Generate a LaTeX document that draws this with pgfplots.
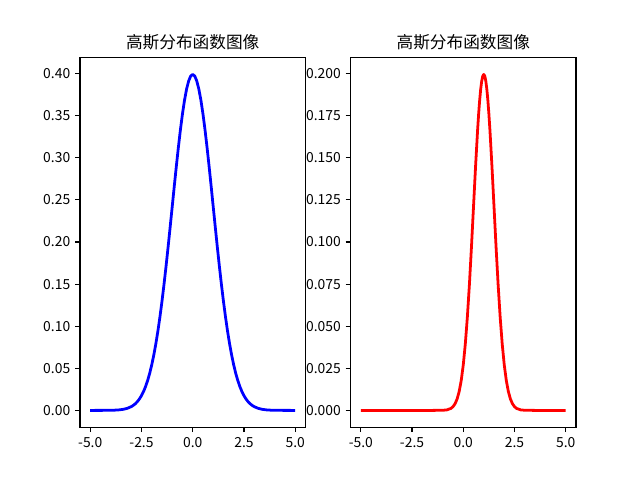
\documentclass[border=0pt]{standalone}
\usepackage{fontspec}
\setmainfont{Noto Sans CJK SC}
\usepackage{pgfplots}
\pgfplotsset{compat=1.18}
\begin{document}
\begin{tikzpicture}
\path (0,0) rectangle (460.8pt,345.6pt);
\pgfplotsset{
  mpl/.style={
    scale only axis,
    width=162.3pt, height=266.1pt,
    anchor=south west,
    axis line style={line width=0.8pt},
    tick style={line width=0.8pt, black},
    major tick length=3.5pt,
    tick align=outside,
    xtick pos=bottom, ytick pos=left,
    xmin=-5.5, xmax=5.5,
    xtick={-5,-2.5,0,2.5,5},
    xticklabels={-5.0,-2.5,0.0,2.5,5.0},
    tick label style={font=\fontsize{10pt}{12pt}\selectfont},
    /pgf/number format/assume math mode=true,
    title style={font=\fontsize{12pt}{14pt}\selectfont, at={(0.5,1)}, anchor=south, yshift=-4pt},
  }
}
\begin{axis}[mpl, at={(57.6pt,38.02pt)},
  ymin=-0.019947, ymax=0.418889,
  ytick={0,0.05,0.10,0.15,0.20,0.25,0.30,0.35,0.40},
  yticklabels={0.00,0.05,0.10,0.15,0.20,0.25,0.30,0.35,0.40},
  title={高斯分布函数图像}]
\addplot[blue, line width=2pt, line join=round] coordinates {
(-5.0,0.0000015) (-4.5,0.000016) (-4.0,0.00013) (-3.8,0.00029) (-3.6,0.00061) (-3.4,0.00123) (-3.2,0.00238)
(-3.0,0.00443) (-2.9,0.00595) (-2.8,0.00792) (-2.7,0.01042) (-2.6,0.01358) (-2.5,0.01753)
(-2.4,0.02239) (-2.3,0.02833) (-2.2,0.03547) (-2.1,0.04398) (-2.0,0.05399)
(-1.9,0.06562) (-1.8,0.07895) (-1.7,0.09405) (-1.6,0.11092) (-1.5,0.12952)
(-1.4,0.14973) (-1.3,0.17137) (-1.2,0.19419) (-1.1,0.21785) (-1.0,0.24197)
(-0.9,0.26609) (-0.8,0.28969) (-0.7,0.31225) (-0.6,0.33322) (-0.5,0.35207)
(-0.4,0.36827) (-0.3,0.38139) (-0.2,0.39104) (-0.1,0.39695) (0.0,0.39894)
(0.1,0.39695) (0.2,0.39104) (0.3,0.38139) (0.4,0.36827) (0.5,0.35207)
(0.6,0.33322) (0.7,0.31225) (0.8,0.28969) (0.9,0.26609) (1.0,0.24197)
(1.1,0.21785) (1.2,0.19419) (1.3,0.17137) (1.4,0.14973) (1.5,0.12952)
(1.6,0.11092) (1.7,0.09405) (1.8,0.07895) (1.9,0.06562) (2.0,0.05399)
(2.1,0.04398) (2.2,0.03547) (2.3,0.02833) (2.4,0.02239) (2.5,0.01753)
(2.6,0.01358) (2.7,0.01042) (2.8,0.00792) (2.9,0.00595) (3.0,0.00443)
(3.2,0.00238) (3.4,0.00123) (3.6,0.00061) (3.8,0.00029) (4.0,0.00013) (4.5,0.000016) (5.0,0.0000015)
};
\end{axis}
\begin{axis}[mpl, at={(252.4pt,38.02pt)},
  ymin=-0.009974, ymax=0.209445,
  ytick={0,0.025,0.05,0.075,0.10,0.125,0.15,0.175,0.20},
  yticklabels={0.000,0.025,0.050,0.075,0.100,0.125,0.150,0.175,0.200},
  title={高斯分布函数图像}]
\addplot[red, line width=2pt, line join=round] coordinates {
(-5.0,0) (-2.0,0) (-1.5,0.0000002) (-1.0,0.00007) (-0.8,0.00031) (-0.6,0.00119)
(-0.5,0.00222) (-0.4,0.00396) (-0.3,0.00679) (-0.2,0.01120) (-0.1,0.01774)
(0.0,0.02700) (0.1,0.03948) (0.2,0.05546) (0.3,0.07486) (0.4,0.09709)
(0.5,0.12099) (0.6,0.14485) (0.7,0.16661) (0.75,0.17603) (0.8,0.18414) (0.85,0.19069) (0.9,0.19552) (0.95,0.19848)
(1.0,0.19947)
(1.05,0.19848) (1.1,0.19552) (1.15,0.19069) (1.2,0.18414) (1.25,0.17603) (1.3,0.16661) (1.4,0.14485) (1.5,0.12099)
(1.6,0.09709) (1.7,0.07486) (1.8,0.05546) (1.9,0.03948) (2.0,0.02700)
(2.1,0.01774) (2.2,0.01120) (2.3,0.00679) (2.4,0.00396) (2.5,0.00222)
(2.6,0.00119) (2.8,0.00031) (3.0,0.00007) (3.5,0.0000002) (4.0,0) (5.0,0)
};
\end{axis}
\end{tikzpicture}
\end{document}
